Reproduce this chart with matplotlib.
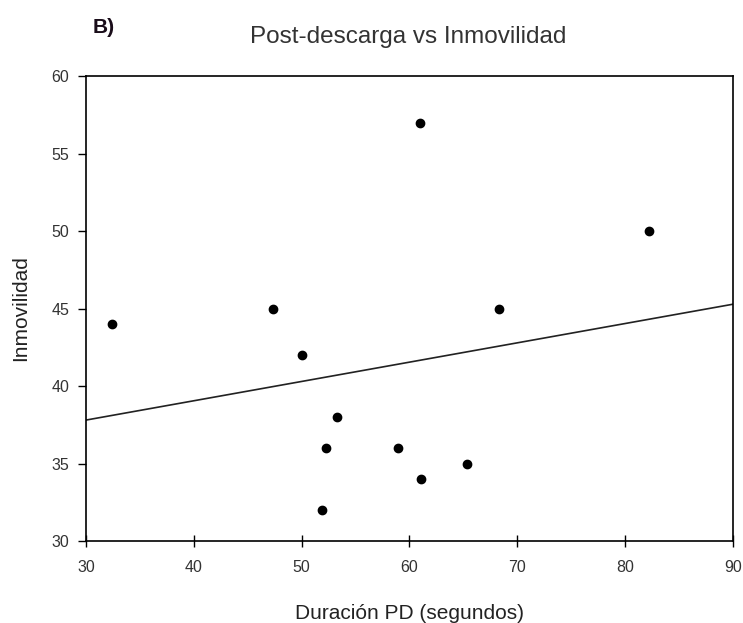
import numpy as np
import matplotlib
matplotlib.use('Agg')
import matplotlib.pyplot as plt

plt.rcParams['font.family'] = ['Liberation Sans', 'DejaVu Sans']

# duracion PD (s) and inmovilidad
duracion = [32.45, 47.3, 50.0, 53.3, 52.3, 51.9, 58.95, 61.1, 65.3, 61.0, 68.3, 82.2]
inmovilidad = [44, 45, 42, 38, 36, 32, 36, 34, 35, 57, 45, 50]

xticks = [30, 40, 50, 60, 70, 80, 90]
yticks = [30, 35, 40, 45, 50, 55, 60]

fig = plt.figure(figsize=(7.43, 6.23), dpi=100)
ax = fig.add_axes([0.1157, 0.1316, 0.8708, 0.7464])

ax.plot(duracion, inmovilidad, 'o', color='black', markersize=6)

# linear fit
m, b = np.polyfit(duracion, inmovilidad, 1)
xl = np.array([30, 90])
ax.plot(xl, m*xl + b, color='#222222', linewidth=1.2)

ax.set_xlim(30, 90)
ax.set_ylim(30, 60)
ax.set_xticks(xticks)
ax.set_yticks(yticks)
ax.tick_params(direction='out', length=6, labelsize=11.5, width=1, labelcolor='#333333', pad=6)
ax.tick_params(axis='x', direction='inout', length=8, pad=10)
for s in ax.spines.values():
    s.set_linewidth(1.2)

ax.set_xlabel("Duración PD (segundos)", fontsize=15, color='#222222')
ax.set_ylabel("Inmovilidad", fontsize=15, color='#222222')
ax.xaxis.set_label_coords(0.5, -0.135)
ax.yaxis.set_label_coords(-0.086, 0.5)
fig.text(0.55, 0.94, "Post-descarga vs Inmovilidad", fontsize=17.5, ha='center', va='center', color='#333333')
fig.text(0.125, 0.956, "B)", fontsize=15, fontweight='bold', ha='left', va='center', color='#1a0d1a')

fig.savefig('out.png', dpi=100)
